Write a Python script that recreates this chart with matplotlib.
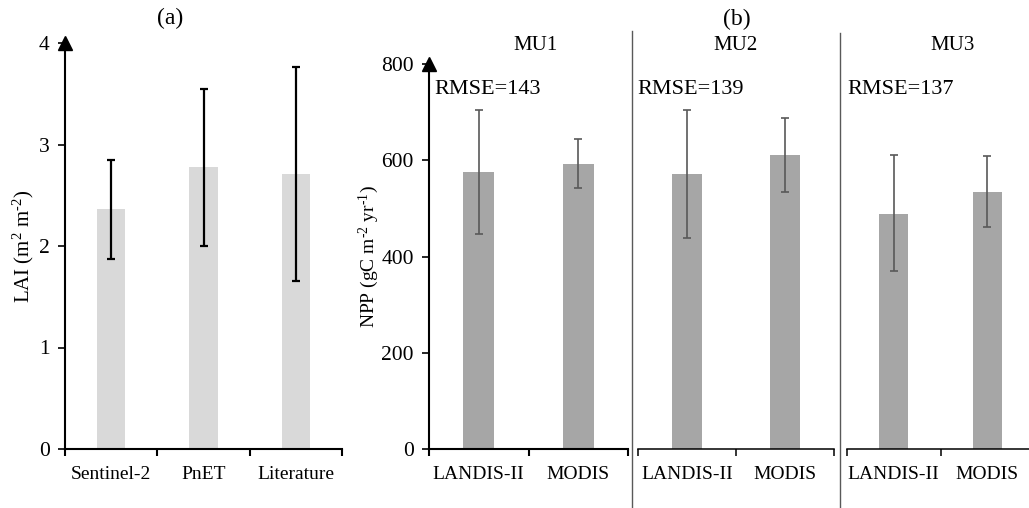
import matplotlib
matplotlib.use("Agg")
import matplotlib.pyplot as plt
from matplotlib.lines import Line2D
import numpy as np

plt.rcParams['font.family'] = ['Liberation Serif', 'DejaVu Serif']
plt.rcParams['mathtext.fontset'] = 'custom'
plt.rcParams['mathtext.rm'] = 'Liberation Serif'
plt.rcParams['mathtext.it'] = 'Liberation Serif:italic'
plt.rcParams['mathtext.bf'] = 'Liberation Serif:bold'

# Panel (a) data
lai_cats = ["Sentinel-2", "PnET", "Literature"]
lai_vals = [2.36, 2.78, 2.71]
lai_err_hi = [2.85, 3.55, 3.76]
lai_err_lo = [1.87, 2.00, 1.66]

# Panel (b) data
mu_names = ["MU1", "MU2", "MU3"]
npp_cats = ["LANDIS-II", "MODIS"]
npp_vals = [[575, 593], [572, 611], [489, 535]]
npp_err_hi = [[705, 644], [705, 688], [610, 608]]
npp_err_lo = [[447, 543], [439, 534], [369, 462]]
rmse = [143, 139, 137]

W, H = 1029, 508
fig = plt.figure(figsize=(W / 100, H / 100), dpi=100)

def rect(l, r, b, t):
    return [l / W, (H - b) / H, (r - l) / W, (b - t) / H]

FS = 14
YFS = 15.5

def style_cat_axis(ax, ncat, lw, show_y):
    ax.set_xlim(-0.5, ncat - 0.5)
    ax.set_xticks(range(ncat))
    ax.tick_params(axis='x', which='major', length=0, pad=12, labelsize=FS)
    ax.set_xticks(np.arange(-0.5, ncat, 1.0), minor=True)
    ax.tick_params(axis='x', which='minor', length=5, width=lw, direction='out')
    ax.spines['top'].set_visible(False)
    ax.spines['right'].set_visible(False)
    ax.spines['bottom'].set_linewidth(lw)
    if show_y:
        ax.spines['left'].set_linewidth(1.5)
        ax.tick_params(axis='y', length=5, width=1.2, labelsize=YFS, pad=6)
        ax.plot([0], [1], marker='^', markersize=10, color='black',
                transform=ax.transAxes, clip_on=False)
    else:
        ax.spines['left'].set_visible(False)
        ax.set_yticks([])

# Panel (a)
axa = fig.add_axes(rect(65, 342, 449, 43))
x = np.arange(len(lai_cats))
lo = np.array(lai_vals) - np.array(lai_err_lo)
hi = np.array(lai_err_hi) - np.array(lai_vals)
axa.bar(x, lai_vals, width=0.31, color='#d9d9d9', zorder=1)
axa.errorbar(x, lai_vals, yerr=[lo, hi], fmt='none', ecolor='black',
             elinewidth=1.6, capsize=2.8, capthick=1.6, zorder=2)
axa.set_ylim(0, 4)
axa.set_yticks([0, 1, 2, 3, 4])
axa.set_xticklabels(lai_cats)
style_cat_axis(axa, 3, 1.5, True)
axa.set_ylabel("LAI (m$^{2}$ m$^{\\text{-}2}$)", fontsize=15, labelpad=2)
fig.text(170 / W, 1 - 18 / H, "(a)", ha='center', va='center', fontsize=17)

# Panel (b)
bounds = [(429, 628), (638, 834), (847, 1034)]
title_x = [536, 735, 953]
rmse_x = [434, 637, 847]
for i, (l, r) in enumerate(bounds):
    ax = fig.add_axes(rect(l, r, 449, 64))
    xb = np.arange(len(npp_cats))
    v = np.array(npp_vals[i])
    lo = v - np.array(npp_err_lo[i])
    hi = np.array(npp_err_hi[i]) - v
    ax.bar(xb, v, width=0.31, color='#a6a6a6', zorder=1)
    ax.errorbar(xb, v, yerr=[lo, hi], fmt='none', ecolor='#595959',
                elinewidth=1.2, capsize=3.2, capthick=1.2, zorder=2)
    ax.set_ylim(0, 800)
    ax.set_yticks([0, 200, 400, 600, 800])
    ax.set_xticklabels(npp_cats)
    style_cat_axis(ax, 2, 1.5 if i == 0 else 1.1, i == 0)
    if i == 0:
        ax.set_ylabel("NPP (gC m$^{\\text{-}2}$ yr$^{\\text{-}1}$)",
                      fontsize=FS, labelpad=0)
    fig.text(title_x[i] / W, 1 - 45 / H, mu_names[i], ha='center',
             va='center', fontsize=15)
    fig.text(rmse_x[i] / W, 1 - 90 / H, f"RMSE={rmse[i]}", ha='left',
             va='center', fontsize=16)

fig.text(737 / W, 1 - 19 / H, "(b)", ha='center', va='center', fontsize=17)

for xs, yt in [(632, 31), (840, 33)]:
    fig.add_artist(Line2D([xs / W, xs / W], [0, 1 - yt / H],
                          transform=fig.transFigure, color='#595959', lw=1.0))

fig.savefig("out.png", dpi=100)
